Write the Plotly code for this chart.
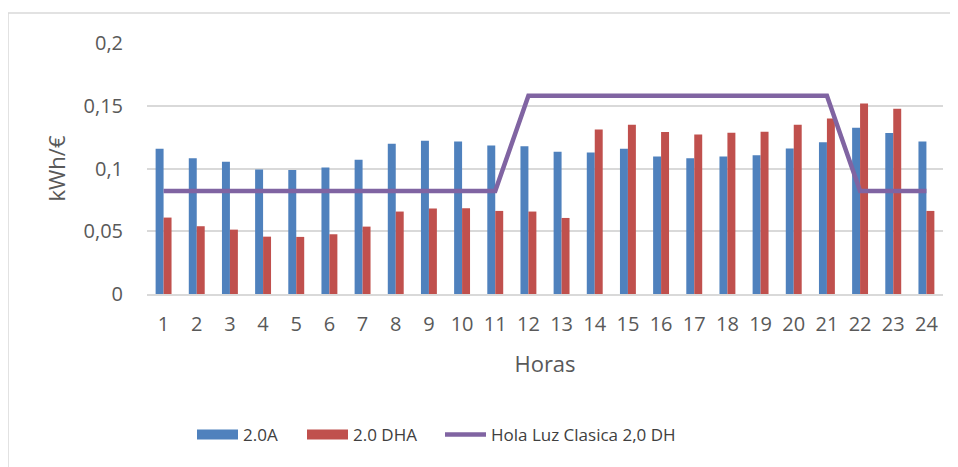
import plotly.graph_objects as go

horas = list(range(1, 25))
tarifa_20a = [0.1157, 0.1082, 0.1053, 0.0992, 0.0989, 0.1008, 0.1069, 0.1197, 0.1221, 0.1215, 0.1183, 0.1178,
              0.1133, 0.1127, 0.1157, 0.1096, 0.1082, 0.1096, 0.1106, 0.1160, 0.1210, 0.1324, 0.1282, 0.1215]
tarifa_20dha = [0.0609, 0.0540, 0.0513, 0.0457, 0.0455, 0.0476, 0.0537, 0.0657, 0.0681, 0.0683, 0.0662, 0.0657,
                0.0606, 0.1311, 0.1348, 0.1290, 0.1271, 0.1284, 0.1293, 0.1348, 0.1399, 0.1518, 0.1476, 0.0662]
hola_luz = [0.082] * 11 + [0.158] * 10 + [0.082] * 3
y_ticks = [0, 0.05, 0.1, 0.15, 0.2]
y_tick_labels = ["0", "0,05", "0,1", "0,15", "0,2"]

BLUE, RED, PURPLE = "#4f81bd", "#c0504d", "#8064a2"

# page has an 8px body margin: work in page pixels, then shift
O = 8
W, H = 958 - O, 467 - O
L, R, T, B = 147 - O, 943 - O, 43 - O, 294 - O

def px_x(p):
    return (p - O - L) / (R - L)

def px_y(p):
    return (B - (p - O)) / (B - T)

fig = go.Figure()
fig.add_trace(go.Bar(x=horas, y=tarifa_20a, name="2.0A", legendgroup="a", showlegend=False,
                     marker=dict(color=BLUE, line=dict(width=0))))
fig.add_trace(go.Bar(x=horas, y=tarifa_20dha, name="2.0 DHA", legendgroup="d", showlegend=False,
                     marker=dict(color=RED, line=dict(width=0))))
fig.add_trace(go.Scatter(x=horas, y=hola_luz, name="Hola Luz Clasica 2,0 DH", mode="lines",
                         line=dict(color=PURPLE, width=4.5), legend="legend3"))
# legend swatches (wide, like the original) tied to the bar traces
fig.add_trace(go.Scatter(x=[None], y=[None], name="2.0A", legendgroup="a", mode="lines",
                         line=dict(color=BLUE, width=11), legend="legend"))
fig.add_trace(go.Scatter(x=[None], y=[None], name="2.0 DHA", legendgroup="d", mode="lines",
                         line=dict(color=RED, width=11), legend="legend2"))

fig.add_shape(type="line", xref="paper", yref="paper", x0=px_x(8), x1=px_x(1000), y0=px_y(13), y1=px_y(13),
              line=dict(color="#d9d9d9", width=1.5))
fig.add_shape(type="line", xref="paper", yref="paper", x0=px_x(8), x1=px_x(8), y0=px_y(13), y1=px_y(500),
              line=dict(color="#d9d9d9", width=1.5))

font_fam = "Open Sans, Noto Sans, sans-serif"
leg_y = px_y(435)
leg_common = dict(orientation="h", xanchor="left", yanchor="middle", y=leg_y, itemwidth=41,
                  font=dict(size=17, color="#404040"), bgcolor="rgba(0,0,0,0)")
fig.update_layout(
    width=W, height=H,
    margin=dict(l=L, r=W - R, t=T, b=H - B, pad=0),
    paper_bgcolor="white", plot_bgcolor="white",
    barmode="group", bargap=0.52, bargroupgap=0,
    font=dict(family=font_fam, color="#595959", size=17),
    showlegend=True,
    legend=dict(x=px_x(197 - 5), **leg_common),
    legend2=dict(x=px_x(307 - 5), **leg_common),
    legend3=dict(x=px_x(445 - 5), **leg_common),
    xaxis=dict(range=[0.5, 24.5], tickmode="array", tickvals=horas, ticktext=[str(h) for h in horas],
               showgrid=False, zeroline=False, showline=True, linecolor="#d9d9d9", linewidth=1.5,
               ticks="", ticklabelstandoff=11, tickfont=dict(size=20),
               title=dict(text="Horas", font=dict(size=22, color="#595959"), standoff=21)),
    yaxis=dict(range=[0, 0.2], tickmode="array", tickvals=y_ticks, ticktext=y_tick_labels,
               showgrid=True, gridcolor="#d9d9d9", gridwidth=1.5, zeroline=False, showline=False,
               ticks="", ticklabelstandoff=23, tickfont=dict(size=20),
               title=dict(text="kWh/€", font=dict(size=22, color="#595959"), standoff=11)),
)

fig.write_html("out.html")
